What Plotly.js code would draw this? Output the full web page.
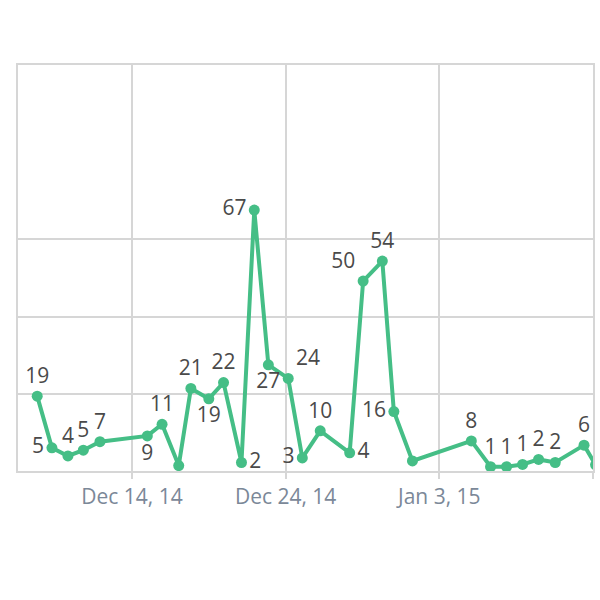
<!DOCTYPE html>
<html>
<head>
<meta charset="utf-8">
<script src="https://cdn.plot.ly/plotly-3.0.1.min.js"></script>
<style>html,body{margin:0;padding:0;background:#fff;}#chart{width:600px;height:600px;}</style>
</head>
<body>
<div id="chart"></div>
<script>
// Timestamps of each point
const dates = [
  "2014-12-07 20:00","2014-12-08 19:00","2014-12-09 20:00","2014-12-10 20:00","2014-12-11 22:00",
  "2014-12-15 00:00","2014-12-15 23:00","2014-12-17 01:00","2014-12-17 20:00","2014-12-19 00:00",
  "2014-12-19 23:00","2014-12-21 03:00","2014-12-21 23:00","2014-12-22 21:00","2014-12-24 04:00",
  "2014-12-25 02:00","2014-12-26 06:00","2014-12-28 04:00","2014-12-29 01:00","2014-12-30 07:00",
  "2014-12-31 01:00","2015-01-01 06:00","2015-01-05 02:00","2015-01-06 08:00","2015-01-07 09:00",
  "2015-01-08 10:00","2015-01-09 11:00","2015-01-10 13:00","2015-01-12 10:00","2015-01-13 04:00"
];
// Plotted values
const values = [
  19.4, 6.0, 3.9, 5.4, 7.6,
  9.1, 12.1, 1.4, 21.4, 18.7,
  22.9, 2.2, 67.6, 27.5, 24.0,
  3.4, 10.4, 4.7, 49.2, 54.4,
  15.4, 2.6, 7.8, 1.1, 1.1,
  1.7, 3.0, 2.2, 6.7, 1.6
];
// Printed point labels
const labels = [
  "19","5","4","5","7",
  "9","11","","21","19",
  "22","2","67","27","24",
  "3","10","4","50","54",
  "16","","8","1","1",
  "1","2","2","6",""
];
const labelPositions = [
  "top center","middle left","top center","top center","top center",
  "bottom center","top center","top center","top center","bottom center",
  "top center","middle right","middle left","bottom center","top right",
  "middle left","top center","middle right","top left","top center",
  "middle left","top center","top center","top center","top center",
  "top center","top center","top center","top center","top center"
];
// Axis ticks
const xTickVals = ["2014-12-14","2014-12-24","2015-01-03","2015-01-13"];
const xTickText = ["Dec 14, 14","Dec 24, 14","Jan 3, 15",""];
const yGridVals = [20, 40, 60];
const xRange = ["2014-12-06 14:00","2015-01-13 00:00"];
const yRange = [0, 105.2];

const green = "#45be86";
const gridCol = "#d6d6d6";

Plotly.newPlot("chart", [{
  type: "scatter",
  mode: "lines+markers+text",
  x: dates,
  y: values,
  text: labels,
  textposition: labelPositions,
  textfont: {family: "Open Sans, sans-serif", size: 21, color: "#4a4a4a"},
  line: {color: green, width: 4},
  marker: {color: green, size: 11},
  cliponaxis: true,
  hoverinfo: "none"
}], {
  width: 600, height: 600,
  margin: {l: 18, r: 7, t: 65, b: 129},
  paper_bgcolor: "#ffffff",
  plot_bgcolor: "#ffffff",
  showlegend: false,
  font: {family: "Open Sans, sans-serif"},
  xaxis: {
    type: "date",
    range: xRange,
    tickmode: "array",
    tickvals: xTickVals,
    ticktext: xTickText,
    showgrid: true, gridcolor: gridCol, gridwidth: 2,
    showline: true, linecolor: gridCol, linewidth: 2, mirror: true,
    ticks: "outside", ticklen: 6, tickwidth: 2, tickcolor: gridCol,
    tickfont: {family: "Open Sans, sans-serif", size: 21, color: "#7b8898"},
    zeroline: false
  },
  yaxis: {
    range: yRange,
    tickmode: "array",
    tickvals: yGridVals,
    showticklabels: false,
    showgrid: true, gridcolor: gridCol, gridwidth: 2,
    showline: true, linecolor: gridCol, linewidth: 2, mirror: true,
    ticks: "",
    zeroline: false
  }
}, {staticPlot: true});
</script>
</body>
</html>
